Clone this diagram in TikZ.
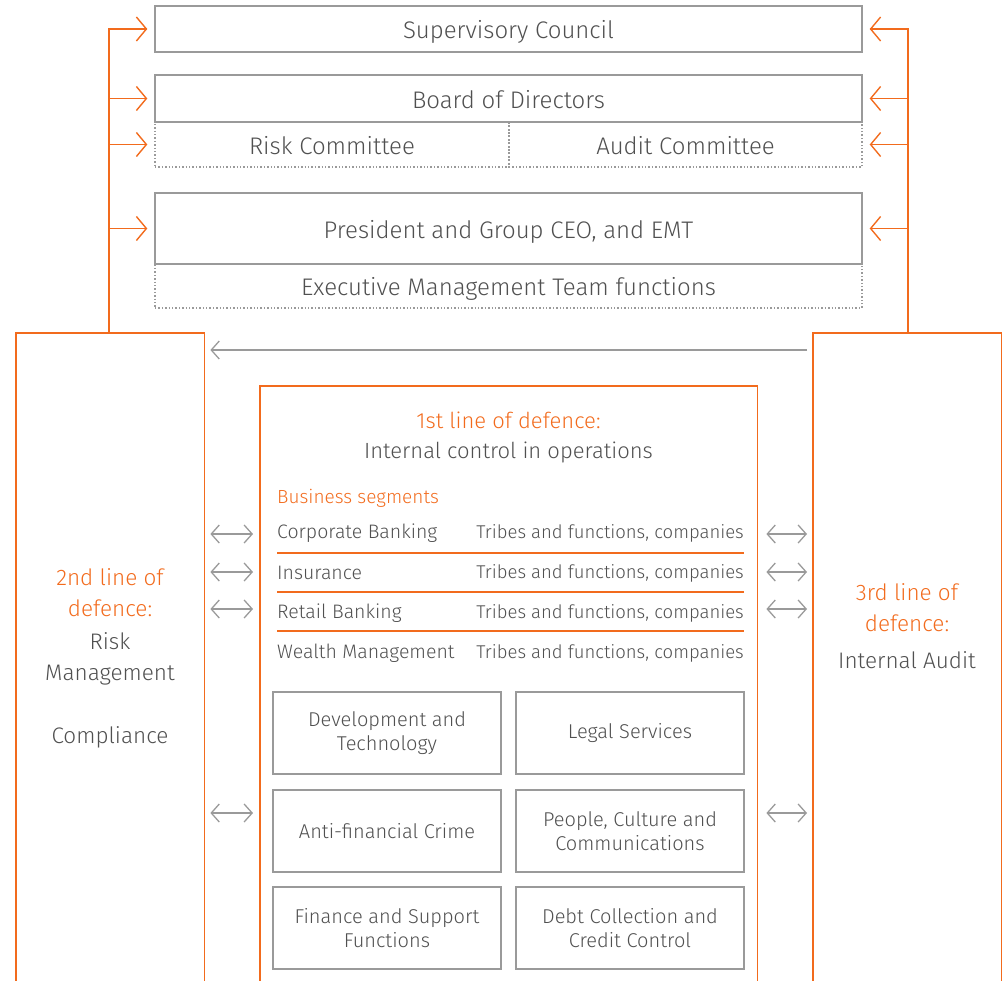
\documentclass[tikz,border=0pt]{standalone}
\usepackage{fontspec}
\setmainfont{Fira Sans Light}
\usetikzlibrary{arrows.meta}
\definecolor{org}{HTML}{F26B1D}
\definecolor{gbox}{HTML}{9A9A9A}
\definecolor{txt}{HTML}{505050}
\tikzset{
  x=1pt,y=-1pt,
  solidbox/.style={draw=gbox,line width=1.4pt,minimum width=707pt,text=txt,font=\fontsize{24}{28}\selectfont,inner sep=0pt,text height=22pt,text depth=3pt},
  dotbox/.style={draw=gbox,line width=1.4pt,dotted,text=txt,font=\fontsize{24}{28}\selectfont,inner sep=0pt,text height=22pt,text depth=3pt},
  smallbox/.style={draw=gbox,line width=1.4pt,minimum width=228pt,minimum height=82pt,text=txt,align=center,font=\fontsize{20}{24}\selectfont,inner sep=0pt},
  obox/.style={draw=org,line width=1.4pt},
  oarrow/.style={draw=org,line width=1.4pt,-{Straight Barb[length=10pt,width=24pt,line width=1.4pt]}},
  oline/.style={draw=org,line width=1.4pt},
  garrow/.style={draw=gbox,line width=1.3pt,-{Straight Barb[length=8pt,width=18pt,line width=1.3pt]}},
  gdarrow/.style={draw=gbox,line width=1.3pt,{Straight Barb[length=8pt,width=18pt,line width=1.3pt]}-{Straight Barb[length=8pt,width=18pt,line width=1.3pt]}},
  rowtxt/.style={text=txt,font=\fontsize{19.5}{23}\selectfont,inner sep=0pt},
  rowtxtr/.style={text=txt,font=\fontsize{18.5}{23}\selectfont,inner sep=0pt},
  otxt/.style={text=org,font=\fontsize{22}{26}\selectfont,inner sep=0pt},
  sidetxt/.style={text=txt,font=\fontsize{22.5}{31}\selectfont,align=center,inner sep=0pt},
  segline/.style={draw=org,line width=1.4pt},
}
\begin{document}
\begin{tikzpicture}
\useasboundingbox (0,0) rectangle (1006,980);
% top boxes
\node[solidbox,minimum height=46pt] (sc) at (508.5,29) {Supervisory Council};
\node[solidbox,minimum height=47pt] (bd) at (508.5,98.5) {Board of Directors};
\node[dotbox,minimum width=354pt,minimum height=45pt] (rc) at (332,144.5) {Risk Committee};
\node[dotbox,minimum width=353pt,minimum height=45pt] (ac) at (685.5,144.5) {Audit Committee};
\node[solidbox,minimum height=71pt] (ceo) at (508.5,228.5) {President and Group CEO, and EMT};
\node[dotbox,minimum width=707pt,minimum height=44pt] (emt) at (508.5,286) {Executive Management Team functions};
% redraw solid borders over dotted ones
\draw[draw=gbox,line width=1.4pt] (bd.south west) rectangle (bd.north east);
\draw[draw=gbox,line width=1.4pt] (ceo.south west) rectangle (ceo.north east);
% side boxes
\node[minimum width=188pt,minimum height=652pt,anchor=north west,inner sep=0pt] (L) at (16,333) {};
\node[minimum width=188pt,minimum height=652pt,anchor=north west,inner sep=0pt] (R) at (813,333) {};
\node[minimum width=497pt,minimum height=599pt,anchor=north west,inner sep=0pt] (C) at (260,386) {};
\draw[obox] (L.south west) -- (L.north west) -- (L.north east) -- (L.south east);
\draw[obox] (R.south west) -- (R.north west) -- (R.north east) -- (R.south east);
\draw[obox] (C.south west) -- (C.north west) -- (C.north east) -- (C.south east);
% orange spines
\coordinate (ls) at (109,333);
\coordinate (rs) at (908,333);
\draw[oline] (ls) |- ([xshift=-7pt]sc.west);
\foreach \n in {sc,bd,rc,ceo}{
  \draw[oarrow] (ls |- \n.west) -- ([xshift=-7pt]\n.west);
}
\draw[oline] (rs) |- ([xshift=7pt]sc.east);
\foreach \n in {sc,bd,ac,ceo}{
  \draw[oarrow] (rs |- \n.east) -- ([xshift=7pt]\n.east);
}
% gray arrow from right box to left box
\draw[garrow] ([xshift=-6pt]R.north west |- 0,350) -- ([xshift=6pt]L.north east |- 0,350);
% side texts
\node[sidetxt] (l2) at (110,593) {\textcolor{org}{2nd line of}\\\textcolor{org}{defence:}};
\node[sidetxt,anchor=north] (lrm) at (110,632) {Risk\\Management};
\node[sidetxt] (lco) at (110,737) {Compliance};
\node[sidetxt] (r3) at (907,608) {\textcolor{org}{3rd line of}\\\textcolor{org}{defence:}};
\node[sidetxt] (ria) at (907,660) {Internal Audit};
% center texts
\node[otxt] (t1) at (508.5,420) {1st line of defence:};
\node[text=txt,font=\fontsize{22}{26}\selectfont,inner sep=0pt] (t2) at (508.5,452) {Internal control in operations};
\node[text=org,font=\fontsize{19}{23}\selectfont,inner sep=0pt,anchor=west] (bs) at (277,498) {Business segments};
\foreach \y/\a in {533/Corporate Banking,573/Insurance,613/Retail Banking,653/Wealth Management}{
  \node[rowtxt,anchor=west] (a\y) at (277,\y) {\a};
  \node[rowtxtr,anchor=east] (b\y) at (744,\y) {Tribes and functions, companies};
}
\foreach \y in {553,592,631}{
  \coordinate (s1\y) at (277,\y);
  \coordinate (s2\y) at (744,\y);
  \draw[segline] (s1\y) -- (s2\y);
}
% double arrows
\foreach \y in {534,572,609,813}{
  \draw[gdarrow] ([xshift=6pt]L.north east |- 0,\y) -- ([xshift=-7pt]C.north west |- 0,\y);
  \draw[gdarrow] ([xshift=9pt]C.north east |- 0,\y) -- ([xshift=-6pt]R.north west |- 0,\y);
}
% small boxes
\node[smallbox] (d1) at (387,733) {Development and\\Technology};
\node[smallbox] (d2) at (630,733) {Legal Services};
\node[smallbox] (d3) at (387,831) {Anti-financial Crime};
\node[smallbox] (d4) at (630,831) {People, Culture and\\Communications};
\node[smallbox] (d5) at (387,928) {Finance and Support\\Functions};
\node[smallbox] (d6) at (630,928) {Debt Collection and\\Credit Control};
\end{tikzpicture}
\end{document}
